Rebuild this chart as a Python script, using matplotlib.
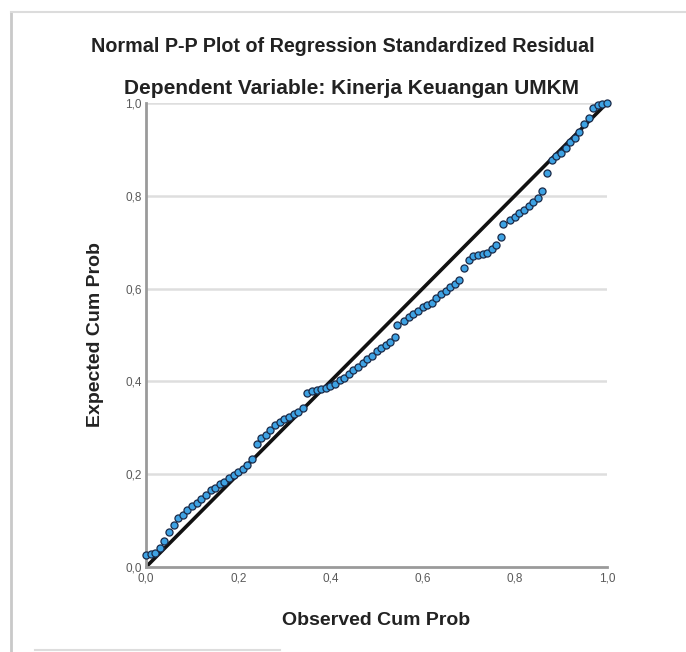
import matplotlib
matplotlib.use("Agg")
import matplotlib.pyplot as plt
from matplotlib.lines import Line2D

plt.rcParams['font.family'] = ['Liberation Sans', 'DejaVu Sans']

title_line1 = "Normal P-P Plot of Regression Standardized Residual"
title_line2 = "Dependent Variable: Kinerja Keuangan UMKM"
x_label = "Observed Cum Prob"
y_label = "Expected Cum Prob"
tick_values = [0.0, 0.2, 0.4, 0.6, 0.8, 1.0]
tick_labels = ["0,0", "0,2", "0,4", "0,6", "0,8", "1,0"]

observed = [0.00, 0.01, 0.02, 0.03, 0.04, 0.05, 0.06, 0.07, 0.08, 0.09,
            0.10, 0.11, 0.12, 0.13, 0.14, 0.15, 0.16, 0.17, 0.18, 0.19,
            0.20, 0.21, 0.22, 0.23, 0.24, 0.25, 0.26, 0.27, 0.28, 0.29,
            0.30, 0.31, 0.32, 0.33, 0.34, 0.35, 0.36, 0.37, 0.38, 0.39,
            0.40, 0.41, 0.42, 0.43, 0.44, 0.45, 0.46, 0.47, 0.48, 0.49,
            0.50, 0.51, 0.52, 0.53, 0.54, 0.545, 0.56, 0.57, 0.58, 0.59,
            0.60, 0.61, 0.62, 0.63, 0.64, 0.65, 0.66, 0.67, 0.68, 0.69,
            0.70, 0.71, 0.72, 0.73, 0.74, 0.75, 0.76, 0.77, 0.775, 0.79,
            0.80, 0.81, 0.82, 0.83, 0.84, 0.85, 0.86, 0.87, 0.88, 0.89,
            0.90, 0.91, 0.92, 0.93, 0.94, 0.95, 0.96, 0.97, 0.98, 0.99, 1.00]

expected = [0.025, 0.027, 0.030, 0.042, 0.055, 0.075, 0.090, 0.105, 0.112, 0.122,
            0.132, 0.138, 0.146, 0.155, 0.165, 0.170, 0.178, 0.184, 0.192, 0.198,
            0.205, 0.212, 0.220, 0.232, 0.265, 0.277, 0.285, 0.295, 0.305, 0.312,
            0.318, 0.324, 0.330, 0.335, 0.342, 0.376, 0.380, 0.382, 0.384, 0.386,
            0.390, 0.395, 0.402, 0.408, 0.415, 0.425, 0.432, 0.440, 0.448, 0.455,
            0.465, 0.472, 0.478, 0.485, 0.495, 0.522, 0.530, 0.538, 0.545, 0.552,
            0.560, 0.565, 0.570, 0.580, 0.588, 0.595, 0.603, 0.610, 0.618, 0.645,
            0.662, 0.670, 0.673, 0.675, 0.677, 0.685, 0.695, 0.712, 0.740, 0.748,
            0.755, 0.762, 0.770, 0.778, 0.786, 0.795, 0.810, 0.850, 0.878, 0.885,
            0.893, 0.903, 0.915, 0.925, 0.938, 0.955, 0.968, 0.990, 0.995, 0.998, 0.999]

W, H = 686, 652
fig = plt.figure(figsize=(W / 100, H / 100), dpi=100)
fig.patch.set_facecolor('white')

# frame lines of the output panel
fig.add_artist(Line2D([11 / W, 11 / W], [0, 1 - 12 / H], color='#c9c9c9', lw=2,
                      transform=fig.transFigure))
fig.add_artist(Line2D([11 / W, 1], [1 - 12 / H, 1 - 12 / H], color='#dcdcdc', lw=1.5,
                      transform=fig.transFigure))
fig.add_artist(Line2D([35 / W, 280 / W], [1 - 650 / H, 1 - 650 / H], color='#dddddd', lw=1.5,
                      transform=fig.transFigure))

ax = fig.add_axes([146 / W, 1 - 567 / H, (607 - 146) / W, (567 - 103) / H])
ax.set_xlim(0, 1)
ax.set_ylim(0, 1)

for v in tick_values[1:]:
    ax.axhline(v, color='#dedede', lw=1.8, zorder=0)

ax.plot([0, 1], [0, 1], color='#111111', lw=2.6, zorder=2, solid_capstyle='butt')
ax.scatter(observed, expected, s=26, facecolor='#3ea2e3', edgecolor='#1a2a48',
           linewidths=0.9, zorder=3, clip_on=False)

for side in ['top', 'right']:
    ax.spines[side].set_visible(False)
for side in ['left', 'bottom']:
    ax.spines[side].set_color('#9a9a9a')
    ax.spines[side].set_linewidth(2)

ax.set_xticks(tick_values)
ax.set_xticklabels(tick_labels)
ax.set_yticks(tick_values)
ax.set_yticklabels(tick_labels)
ax.tick_params(length=0, labelsize=8.5, colors='#5a5a5a', pad=4)
ax.tick_params(axis='y', pad=3)

ax.set_xlabel(x_label, fontsize=14, fontweight='bold', color='#222222', labelpad=20)
ax.set_ylabel(y_label, fontsize=14, fontweight='bold', color='#222222', labelpad=15)

fig.text(343 / W, 1 - 47 / H, title_line1, ha='center', va='center', fontsize=14.2,
         fontweight='bold', color='#222222')
fig.text(352 / W, 1 - 88 / H, title_line2, ha='center', va='center', fontsize=15,
         fontweight='bold', color='#222222')

fig.savefig('out.png', dpi=100)
